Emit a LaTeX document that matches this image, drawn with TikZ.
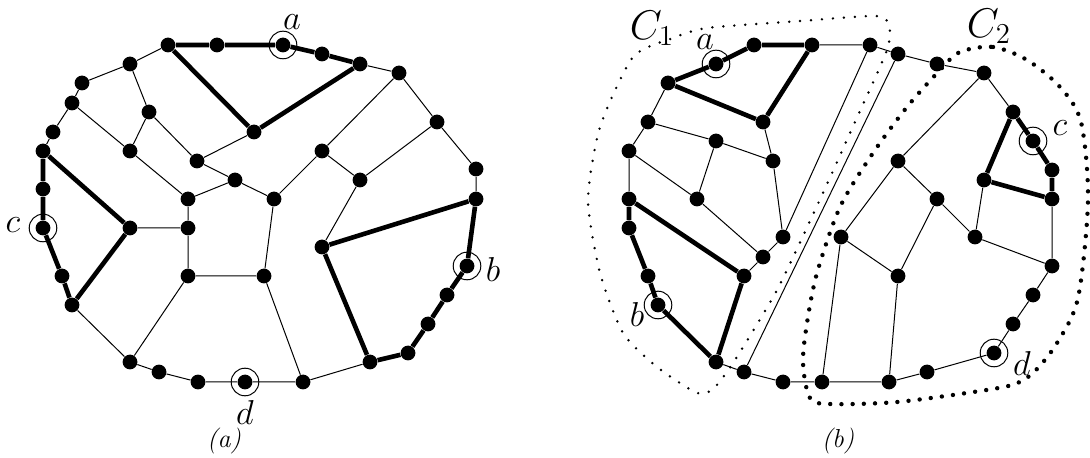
\documentclass[tikz,border=0pt]{standalone}
\usetikzlibrary{calc}
\begin{document}
\begin{tikzpicture}[x=0.5pt,y=-0.5pt,
  vtx/.style={circle,fill=black,inner sep=0pt,minimum size=7.4pt},
  thin edge/.style={line width=0.5pt},
  thick edge/.style={line width=2.3pt},
  ring/.style={line width=0.5pt},
  lab/.style={inner sep=0pt,font=\fontsize{16}{18}\selectfont},
  captxt/.style={inner sep=0pt,font=\fontsize{13}{15}\selectfont\itshape},
  clab/.style={inner sep=0pt,font=\fontsize{20.5}{22}\selectfont},
  dotsA/.style={line width=1.35pt,line cap=round,dash pattern=on 0pt off 5.5pt},
  dotsB/.style={line width=2.2pt,line cap=round,dash pattern=on 0pt off 5.6pt}]
\useasboundingbox (0,0) rectangle (1090,458);

% ---------------- (a) ----------------
\foreach \n/\p in {L1/{168,45},L2/{217,45},La/{283,45},L4/{322,54},L5/{360,64},L6/{399,73},
  L7/{437,122},L8/{476,169},L9/{476,199},Lb/{467,266},L11/{447,295},L12/{428,324},L13/{408,353},
  L14/{370,362},L15/{303,382},Ld/{245,382},L17/{198,382},L18/{159,372},L19/{130,362},L20/{72,305},
  L21/{62,276},Lc/{43,228},L23/{43,189},L24/{43,151},L25/{53,132},L26/{72,103},L27/{82,83},L28/{130,64},
  I1/{149,112},I2/{130,151},I3/{197,161},I4/{235,180},I5/{188,199},I6/{254,132},I7/{274,199},
  I8/{322,151},I9/{360,180},I10/{130,228},I11/{188,228},I12/{188,276},I13/{264,276},I14/{322,247}}
  \node[vtx] (\n) at (\p) {};

\draw[thin edge] (L5)--(L6)--(L7)--(L8)--(L9);
\draw[thin edge] (L14)--(L15)--(Ld)--(L17)--(L18)--(L19)--(L20);
\draw[thin edge] (L24)--(L25)--(L26)--(L27)--(L28)--(L1);
\draw[thin edge] (L28)--(I1) (I1)--(I2) (L26)--(I2) (I1)--(I3) (I3)--(I6) (I3)--(I4)
  (I2)--(I5) (I5)--(I4) (I4)--(I7) (I7)--(I8) (I8)--(L6) (I8)--(I9) (I9)--(L7) (I9)--(I14)
  (I7)--(I13) (I5)--(I11) (I10)--(I11) (I11)--(I12) (I12)--(I13) (I12)--(L19) (I13)--(L15);
\draw[thick edge] (L1)--(L2)--(La)--(L4)--(L5) (L1)--(I6) (I6)--(L5);
\draw[thick edge] (L9)--(Lb)--(L11)--(L12)--(L13)--(L14) (L9)--(I14) (I14)--(L14);
\draw[thick edge] (L24)--(L23)--(Lc)--(L21)--(L20) (L24)--(I10) (I10)--(L20);

\foreach \n in {La,Lb,Lc,Ld} \draw[ring] (\n) circle[radius=6.9pt];
\node[lab] (la) at (292,22) {$a$};
\node[lab] (lb) at (493,270) {$b$};
\node[lab] (lc) at (13,225) {$c$};
\node[lab] (ld) at (245,412) {$d$};
\node[captxt] (capa) at (224,441) {(a)};

% ---------------- (b) ----------------
\draw[dotsA] plot[smooth cycle,tension=0.4] coordinates {(707,28) (800,21) (876,16) (889,25) (887,50)
  (855,122) (822,195) (777,290) (733,363) (713,389) (697,393) (657,367) (623,333) (600,273) (588,200)
  (600,127) (633,57) (673,38)};
\draw[dotsB] plot[smooth cycle,tension=0.5] coordinates {(960,52) (993,47) (1027,60) (1060,87) (1081,122)
  (1088,200) (1078,298) (1057,343) (1035,371) (1015,384) (980,391) (897,402) (830,404) (810,398)
  (803,363) (807,323) (817,273) (840,207) (873,153) (907,107) (940,70)};

\foreach \n/\p in {Ra1/{754,45},Ra2/{812,45},R3/{870,45},R4/{898,54},R5/{937,64},R6/{984,73},
  R7/{1013,112},Rc/{1033,141},R9/{1052,170},R10/{1052,199},R11/{1052,266},R12/{1033,295},R13/{1013,324},
  Rd/{994,353},R15/{927,372},R16/{889,382},R17/{822,382},R18/{783,382},R19/{744,372},R20/{716,362},
  Rb/{658,305},R22/{648,276},R23/{629,228},R24/{629,199},R25/{629,151},R26/{648,122},R27/{668,83},
  Ra/{716,64},S1/{763,122},S2/{716,141},S3/{773,161},S4/{697,199},S5/{744,276},S6/{763,257},
  S7/{783,237},S8/{898,161},S9/{841,237},S10/{937,199},S11/{898,276},S12/{975,237},S13/{984,180}}
  \node[vtx] (\n) at (\p) {};

\draw[thin edge] (Ra2)--(R3)--(R4)--(R5)--(R6)--(R7);
\draw[thin edge] (R10)--(R11)--(R12)--(R13)--(Rd)--(R15)--(R16)--(R17)--(R18)--(R19)--(R20);
\draw[thin edge] (R24)--(R25)--(R26)--(R27);
\draw[thin edge] (R26)--(S2) (S2)--(S3) (S1)--(S3) (S2)--(S4) (R25)--(S4) (S4)--(S6) (S6)--(S5)
  (S6)--(S7) (S3)--(S7) (S7)--(R3) (R19)--(R4) (R6)--(S8) (S8)--(S9) (S8)--(S10) (S10)--(S11)
  (S10)--(S12) (S9)--(S11) (S9)--(R17) (S11)--(R16) (S13)--(S12) (S12)--(R11);
\draw[thick edge] (R27)--(Ra)--(Ra1)--(Ra2) (Ra2)--(S1) (S1)--(R27);
\draw[thick edge] (R24)--(R23)--(R22)--(Rb)--(R20) (R24)--(S5) (S5)--(R20);
\draw[thick edge] (R7)--(Rc)--(R9)--(R10) (R7)--(S13) (S13)--(R10);

\foreach \n in {Ra,Rb,Rc,Rd} \draw[ring] (\n) circle[radius=6.9pt];
\node[lab] (ra) at (705,42) {$a$};
\node[lab] (rb) at (637,315) {$b$};
\node[lab] (rc) at (1060,128) {$c$};
\node[lab] (rd) at (1022,364) {$d$};
\node[clab] (c1) at (652,28) {$C_1$};
\node[clab] (c2) at (989,26) {$C_2$};
\node[captxt] (capb) at (838,441) {(b)};
\end{tikzpicture}
\end{document}
